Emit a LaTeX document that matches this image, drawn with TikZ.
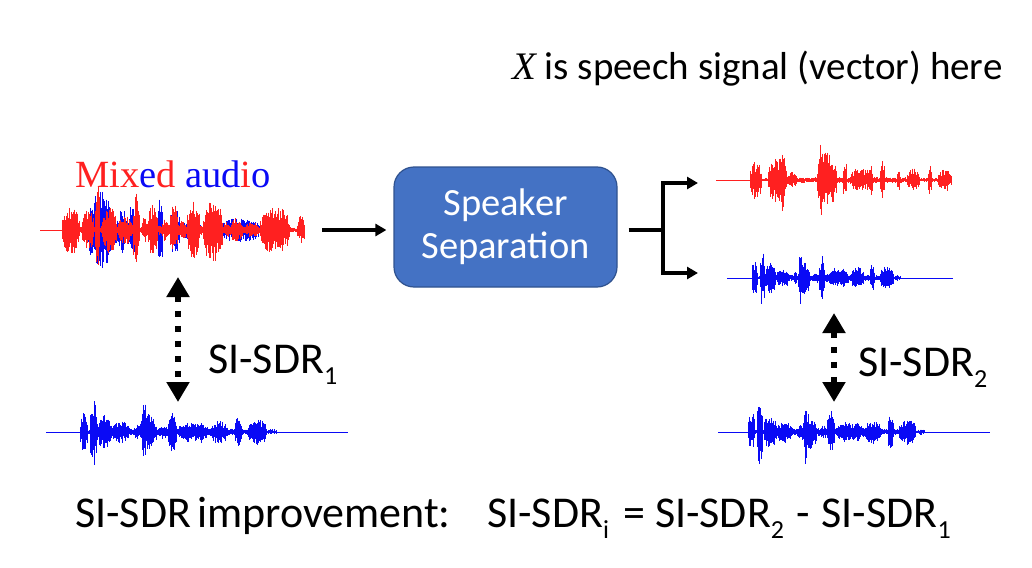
\documentclass[tikz,border=0pt]{standalone}
\usepackage{fontspec}
\setmainfont{Carlito}
\newfontfamily\timesf{Liberation Serif}
\usetikzlibrary{arrows.meta}
\definecolor{wred}{HTML}{FF2020}
\definecolor{wblue}{HTML}{0A0AF5}
\definecolor{boxblue}{HTML}{4472C4}
\definecolor{boxedge}{HTML}{2F528F}
\newcommand\mysub[1]{\raisebox{-11pt}{\fontsize{26}{28}\selectfont #1}}
% x0, y0, xscale, yscale, colour, bursts macro (start/end/amp)
\newcommand\wavedraw[6]{%
  \foreach \ws/\we/\wa in #6{%
    \pgfmathsetmacro\wvLen{\we-\ws}%
    \pgfmathtruncatemacro\wvN{max(2,\wvLen*#3/0.7)}%
    \foreach \wi in {0,...,\wvN}{%
      \pgfmathsetmacro\wvT{\wi/\wvN}%
      \pgfmathsetmacro\wvEnv{\wa*#4*(max(0,sin(180*\wvT)))^0.35}%
      \pgfmathsetmacro\wvUp{\wvEnv*(0.4+0.6*rnd)}%
      \pgfmathsetmacro\wvDn{\wvEnv*(0.4+0.6*rnd)}%
      \pgfmathsetmacro\wvX{#1+(\ws+\wvLen*\wvT)*#3}%
      \draw[#5,line width=1pt] (\wvX,#2-\wvUp) -- (\wvX,#2+\wvDn);
    }%
  }%
}
\def\bluelist{0/190/4,0/8/20,10/17/34,17/32/17,32/50/11,55/60/8,60/77/18,62/66/34,80/88/7,88/97/20,91/95/24,97/130/9,104/110/12,118/124/11,130/148/12,155/162/17,168/187/13,187/197/3}
\def\redlist{0/202/3,0/12/20,18/37/24,30/35/32,37/47/8,67/87/30,68/73/40,93/97/20,100/123/12,118/123/16,130/135/19,147/150/13,157/170/12,178/182/16,188/202/11}
\def\mixblue{26/50/40,50/56/15,56/65/25,66/78/28,96/101/40,108/118/25,120/140/10,155/201/12}
\def\mixred{0/243/5,0/18/25,20/32/22,33/38/50,40/55/25,56/70/15,71/78/38,80/86/15,86/96/25,100/107/12,108/116/25,117/124/10,125/138/30,141/161/33,162/168/8,168/181/12,182/197/8,198/228/24,235/243/15}
\begin{document}
\begin{tikzpicture}[x=1pt,y=-1pt,
  lab/.style={anchor=base west,font=\fontsize{44}{48}\selectfont,inner sep=0pt},
  sepbox/.style={draw=boxedge,line width=1.2pt,fill=boxblue,rounded corners=20pt,
    text=white,align=center,font=\fontsize{38.5}{43}\selectfont},
  conn/.style={line width=3.6pt,-{Triangle[length=11pt,width=12pt]}},
  plainconn/.style={line width=3.6pt},
  dotarrow/.style={line width=6.5pt,dash pattern=on 6.5pt off 8.5pt,
    {Triangle[length=20pt,width=22pt]}-{Triangle[length=20pt,width=22pt]}}]
\useasboundingbox (0,0) rectangle (1032,567);
\pgfmathsetseed{7}
% top note
\node[anchor=base west,inner sep=0pt,font=\fontsize{39}{42}\selectfont] (note) at (512,80)
  {{\timesf\itshape X} is speech signal (vector) here};
% mixed audio label
\node[anchor=base west,inner sep=0pt,font=\timesf\fontsize{38.5}{40}\selectfont] (mixlabel) at (75,187)
  {\textcolor{wred}{Mix}\textcolor{wblue}{e}\textcolor{wred}{d} \textcolor{wblue}{aud}\textcolor{wred}{i}\textcolor{wblue}{o}};
% waveforms
\draw[wblue,line width=0.9pt] (40,230) -- (305,230);
\wavedraw{62}{230}{1}{1}{wblue}{\mixblue}
\wavedraw{62}{230}{1}{1}{wred}{\mixred}
\draw[wred,line width=0.9pt] (40,230) -- (62,230);
\draw[wblue,line width=0.9pt] (46,432) -- (348,432);
\wavedraw{80}{432}{1}{1}{wblue}{\bluelist}
\draw[wred,line width=0.9pt] (716,180) -- (952,180);
\wavedraw{750}{180}{1}{1}{wred}{\redlist}
\draw[wblue,line width=0.9pt] (727,278) -- (953,278);
\wavedraw{752}{278}{0.76}{0.9}{wblue}{\bluelist}
\draw[wblue,line width=0.9pt] (718,432) -- (990,432);
\wavedraw{748}{432}{0.9}{1}{wblue}{\bluelist}
% box
\node[sepbox,minimum width=223pt,minimum height=120pt] (sep) at (505.5,227) {Speaker\\Separation};
% connectors
\coordinate (mixout) at (322,230);
\coordinate (fork) at (663,230);
\coordinate (out1) at (698,183);
\coordinate (out2) at (698,273);
\draw[conn,shorten >=7pt] (mixout) -- (sep.west |- mixout);
\draw[plainconn,shorten <=11pt] (sep.east |- fork) -- (fork);
\draw[conn] (fork) |- (out1);
\draw[conn] (fork) |- (out2);
% dotted double arrows
\coordinate (d1a) at (178,277);
\coordinate (d1b) at (178,402);
\coordinate (d2a) at (834,313);
\coordinate (d2b) at (834,402);
\draw[dotarrow] (d1a) -- (d1b);
\draw[dotarrow] (d2a) -- (d2b);
% labels
\node[lab] (sdr1) at (208,373) {SI-SDR\mysub{1}};
\node[lab] (sdr2) at (858,376) {SI-SDR\mysub{2}};
\node[lab] (impr) at (75,527) {SI-SDR\hspace{6pt}improvement:};
\node[lab] (eq) at (487,527) {SI-SDR\mysub{i}\hspace{14pt}=\hspace{10pt}SI-SDR\mysub{2}\hspace{12pt}-\hspace{12pt}SI-SDR\mysub{1}};
\end{tikzpicture}
\end{document}
